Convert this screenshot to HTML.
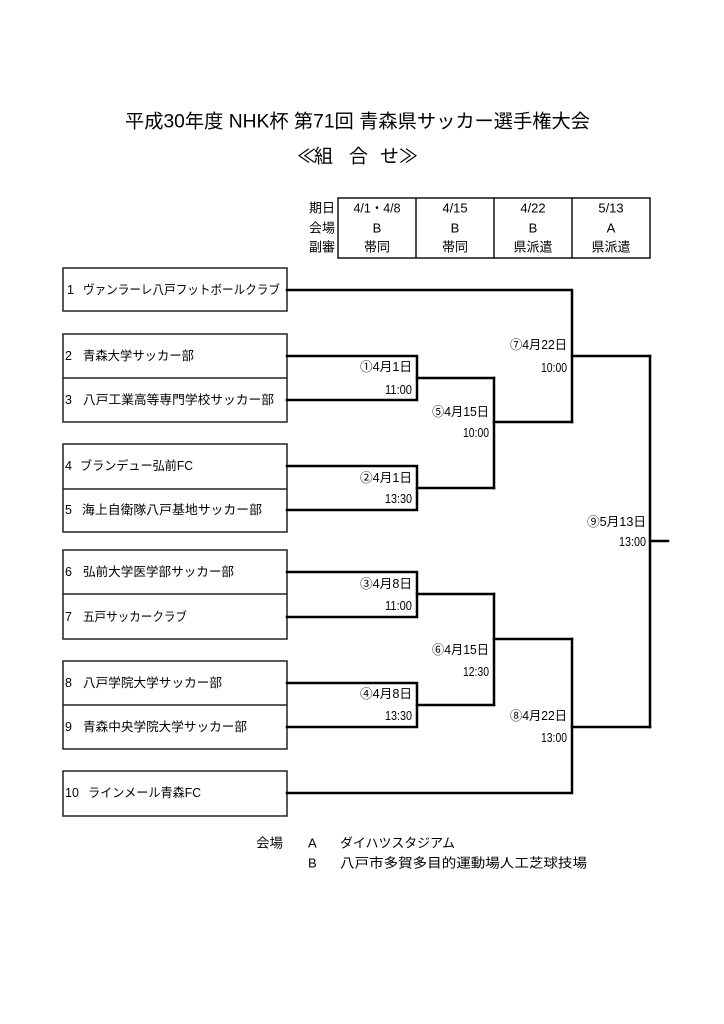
<!DOCTYPE html>
<html><head><meta charset="utf-8">
<style>
html,body{margin:0;padding:0;background:#fff;}
svg{display:block;}
text{font-family:"Liberation Sans","Noto Sans CJK JP",sans-serif;fill:#000;}
</style></head>
<body>
<svg width="724" height="1024" viewBox="0 0 724 1024" xmlns="http://www.w3.org/2000/svg">
<rect x="0" y="0" width="724" height="1024" fill="#fff"/>

<!-- Title -->
<text x="125" y="122" font-size="19" dominant-baseline="central" textLength="465" lengthAdjust="spacingAndGlyphs">平成30年度 NHK杯 第71回 青森県サッカー選手権大会</text>
<text x="297" y="157" font-size="19" dominant-baseline="central">≪</text>
<text x="314" y="157" font-size="19" dominant-baseline="central">組</text>
<text x="349" y="157" font-size="19" dominant-baseline="central">合</text>
<text x="380" y="157" font-size="19" dominant-baseline="central">せ</text>
<text x="399" y="157" font-size="19" dominant-baseline="central">≫</text>

<!-- Schedule table -->
<g fill="none" stroke="#111" stroke-width="1.5">
<rect x="338" y="198" width="312" height="60"/>
<line x1="416" y1="198" x2="416" y2="258"/>
<line x1="494" y1="198" x2="494" y2="258"/>
<line x1="572" y1="198" x2="572" y2="258"/>
</g>
<g font-size="13" dominant-baseline="central">
<text x="335" y="208" text-anchor="end">期日</text>
<text x="335" y="228" text-anchor="end">会場</text>
<text x="335" y="247" text-anchor="end">副審</text>
<g text-anchor="middle">
<text x="377" y="208" textLength="47" lengthAdjust="spacingAndGlyphs">4/1・4/8</text>
<text x="455" y="208">4/15</text>
<text x="533" y="208">4/22</text>
<text x="611" y="208">5/13</text>
<text x="377" y="228">B</text>
<text x="455" y="228">B</text>
<text x="533" y="228">B</text>
<text x="611" y="228">A</text>
<text x="377" y="247">帯同</text>
<text x="455" y="247">帯同</text>
<text x="533" y="247">県派遣</text>
<text x="611" y="247">県派遣</text>
</g>
</g>

<!-- Team boxes -->
<g fill="none" stroke="#222" stroke-width="1.5">
<rect x="63" y="268" width="224" height="43"/>
<rect x="63" y="334" width="224" height="88"/>
<line x1="63" y1="378" x2="287" y2="378"/>
<rect x="63" y="444" width="224" height="88"/>
<line x1="63" y1="489" x2="287" y2="489"/>
<rect x="63" y="550" width="224" height="89"/>
<line x1="63" y1="594" x2="287" y2="594"/>
<rect x="63" y="661" width="224" height="88"/>
<line x1="63" y1="705" x2="287" y2="705"/>
<rect x="63" y="771" width="224" height="45"/>
</g>

<!-- Team names -->
<g font-size="12.5" dominant-baseline="central">
<text x="67" y="290">1</text>
<text x="83" y="290" textLength="197" lengthAdjust="spacingAndGlyphs">ヴァンラーレ八戸フットボールクラブ</text>
<text x="65" y="356">2</text>
<text x="83" y="356" textLength="111" lengthAdjust="spacingAndGlyphs">青森大学サッカー部</text>
<text x="65" y="400">3</text>
<text x="83" y="400" textLength="191" lengthAdjust="spacingAndGlyphs">八戸工業高等専門学校サッカー部</text>
<text x="65" y="466">4</text>
<text x="80" y="466" textLength="113" lengthAdjust="spacingAndGlyphs">ブランデュー弘前FC</text>
<text x="65" y="510">5</text>
<text x="82" y="510" textLength="180" lengthAdjust="spacingAndGlyphs">海上自衛隊八戸基地サッカー部</text>
<text x="65" y="572">6</text>
<text x="83" y="572" textLength="151" lengthAdjust="spacingAndGlyphs">弘前大学医学部サッカー部</text>
<text x="65" y="617">7</text>
<text x="83" y="617" textLength="104" lengthAdjust="spacingAndGlyphs">五戸サッカークラブ</text>
<text x="65" y="683">8</text>
<text x="83" y="683" textLength="139" lengthAdjust="spacingAndGlyphs">八戸学院大学サッカー部</text>
<text x="65" y="727">9</text>
<text x="83" y="727" textLength="164" lengthAdjust="spacingAndGlyphs">青森中央学院大学サッカー部</text>
<text x="65" y="793">10</text>
<text x="88" y="793" textLength="113" lengthAdjust="spacingAndGlyphs">ラインメール青森FC</text>
</g>

<!-- Bracket lines -->
<g fill="none" stroke="#000" stroke-width="2.5" stroke-linecap="square" stroke-linejoin="miter">
<polyline points="287,356 417,356 417,400 287,400"/>
<line x1="417" y1="378" x2="494" y2="378"/>
<polyline points="287,466 417,466 417,510 287,510"/>
<line x1="417" y1="488" x2="494" y2="488"/>
<line x1="494" y1="378" x2="494" y2="488"/>
<line x1="494" y1="422" x2="572" y2="422"/>
<polyline points="287,290 572,290 572,422"/>
<line x1="572" y1="356" x2="650" y2="356"/>
<polyline points="287,572 417,572 417,617 287,617"/>
<line x1="417" y1="594" x2="494" y2="594"/>
<polyline points="287,683 417,683 417,727 287,727"/>
<line x1="417" y1="705" x2="494" y2="705"/>
<line x1="494" y1="594" x2="494" y2="705"/>
<line x1="494" y1="639" x2="572" y2="639"/>
<polyline points="287,793 572,793 572,639"/>
<line x1="572" y1="727" x2="650" y2="727"/>
<line x1="650" y1="356" x2="650" y2="727"/>
<line x1="650" y1="541" x2="668" y2="541"/>
</g>

<!-- Match labels -->
<g font-size="12.5" dominant-baseline="central">
<text x="360" y="367" textLength="52" lengthAdjust="spacingAndGlyphs">①4月1日</text>
<text x="385" y="390" textLength="27" lengthAdjust="spacingAndGlyphs">11:00</text>
<text x="360" y="478" textLength="52" lengthAdjust="spacingAndGlyphs">②4月1日</text>
<text x="385" y="499" textLength="27" lengthAdjust="spacingAndGlyphs">13:30</text>
<text x="360" y="584" textLength="52" lengthAdjust="spacingAndGlyphs">③4月8日</text>
<text x="385" y="606" textLength="27" lengthAdjust="spacingAndGlyphs">11:00</text>
<text x="360" y="694" textLength="52" lengthAdjust="spacingAndGlyphs">④4月8日</text>
<text x="385" y="716" textLength="27" lengthAdjust="spacingAndGlyphs">13:30</text>
<text x="432" y="412" textLength="57" lengthAdjust="spacingAndGlyphs">⑤4月15日</text>
<text x="463" y="433" textLength="26" lengthAdjust="spacingAndGlyphs">10:00</text>
<text x="432" y="650" textLength="57" lengthAdjust="spacingAndGlyphs">⑥4月15日</text>
<text x="463" y="672" textLength="26" lengthAdjust="spacingAndGlyphs">12:30</text>
<text x="510" y="345" textLength="57" lengthAdjust="spacingAndGlyphs">⑦4月22日</text>
<text x="541" y="368" textLength="26" lengthAdjust="spacingAndGlyphs">10:00</text>
<text x="510" y="716" textLength="57" lengthAdjust="spacingAndGlyphs">⑧4月22日</text>
<text x="541" y="738" textLength="26" lengthAdjust="spacingAndGlyphs">13:00</text>
<text x="587" y="522" textLength="59" lengthAdjust="spacingAndGlyphs">⑨5月13日</text>
<text x="619" y="542" textLength="27" lengthAdjust="spacingAndGlyphs">13:00</text>
</g>

<!-- Footer -->
<g font-size="13" dominant-baseline="central">
<text x="256" y="843" textLength="27" lengthAdjust="spacingAndGlyphs">会場</text>
<text x="308" y="843">A</text>
<text x="340" y="843" textLength="115" lengthAdjust="spacingAndGlyphs">ダイハツスタジアム</text>
<text x="308" y="863">B</text>
<text x="340" y="863" textLength="247" lengthAdjust="spacingAndGlyphs">八戸市多賀多目的運動場人工芝球技場</text>
</g>
</svg>
</body></html>
